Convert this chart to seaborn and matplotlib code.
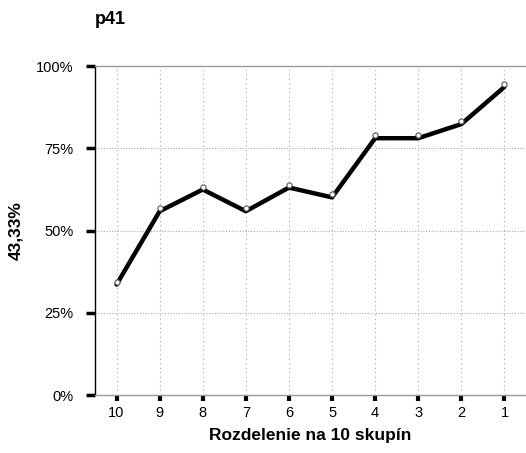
import matplotlib
matplotlib.use("Agg")
import matplotlib.pyplot as plt
import matplotlib.transforms as mtransforms
import seaborn as sns
import pandas as pd

categories = ["10", "9", "8", "7", "6", "5", "4", "3", "2", "1"]
values = [34.5, 56.8, 63.4, 56.8, 64.0, 61.0, 79.0, 79.0, 83.3, 94.6]
y_ticks = [0, 25, 50, 75, 100]
y_tick_labels = ["0%", "25%", "50%", "75%", "100%"]

sns.set_theme(style="white")
plt.rcParams['font.family'] = ['Liberation Sans', 'DejaVu Sans']
plt.rcParams['text.color'] = 'black'
plt.rcParams['axes.labelcolor'] = 'black'
plt.rcParams['xtick.color'] = 'black'
plt.rcParams['ytick.color'] = 'black'

df = pd.DataFrame({"cat": categories, "val": values})
df["pos"] = range(len(categories))

fig = plt.figure(figsize=(5.26, 4.53), dpi=100)
ax = fig.add_axes([0.1806, 0.128, 0.8194, 0.726])

# thick line, slightly offset below the markers
offset = mtransforms.offset_copy(ax.transData, fig=fig, x=0, y=-3, units='dots')
sns.lineplot(data=df, x="pos", y="val", ax=ax, color="black", linewidth=3.2,
             transform=offset, zorder=3, legend=False)
ax.scatter(df["pos"], df["val"], s=14, facecolor="white", edgecolor="#555555",
           linewidth=0.8, zorder=4)

ax.set_xlim(-0.5, len(categories) - 0.5)
ax.set_ylim(0, 100)
ax.set_xticks(range(len(categories)))
ax.set_xticklabels(categories, fontsize=10.5)
ax.set_yticks(y_ticks)
ax.set_yticklabels(y_tick_labels, fontsize=10.5)

for v in range(len(categories)):
    ax.axvline(v, color="#aaaaaa", linestyle=(0, (1, 3)), linewidth=0.8, zorder=1)
for t in [25, 50, 75]:
    ax.axhline(t, color="#aaaaaa", linestyle=(0, (1, 1.5)), linewidth=0.8, zorder=1)

ax.spines["right"].set_visible(False)
ax.spines["top"].set_color("#999999")
ax.spines["top"].set_linewidth(1)
ax.spines["bottom"].set_color("#999999")
ax.spines["bottom"].set_linewidth(1)
ax.spines["left"].set_color("black")
ax.spines["left"].set_linewidth(1)

ax.tick_params(axis="y", which="major", direction="out", length=6.5, width=2.5,
               color="black", labelcolor="black", left=True, pad=9)
ax.tick_params(axis="x", which="major", direction="out", length=4, width=3,
               color="black", labelcolor="black", bottom=True, pad=4)

ax.set_xlabel("Rozdelenie na 10 skupín", fontsize=12.5, fontweight="bold",
              labelpad=6, color="black")
ax.set_ylabel("43,33%", fontsize=12.5, fontweight="bold", labelpad=9, color="black")
fig.text(95 / 526, 1 - 19 / 453, "p41", fontsize=13, fontweight="bold",
         ha="left", va="center", color="black")

fig.savefig("out.png", dpi=100)
